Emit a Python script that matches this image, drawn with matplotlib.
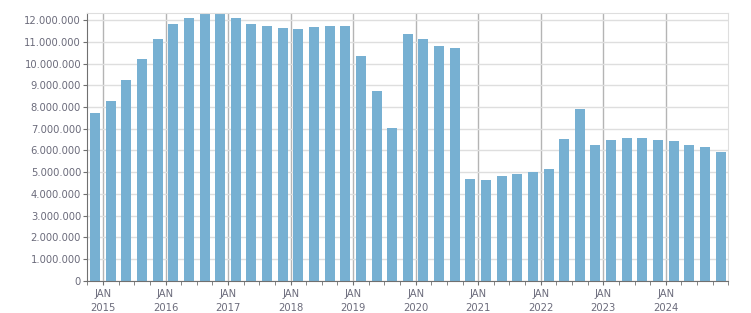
import numpy as np
import matplotlib.pyplot as plt
from matplotlib.ticker import FuncFormatter, FixedLocator

# quarterly values, Q4 2014 .. Q4 2024
values = [7.73, 8.28, 9.25, 10.22, 11.14, 11.83, 12.10, 12.30, 12.30, 12.10,
          11.83, 11.74, 11.65, 11.60, 11.69, 11.74, 11.74, 10.35, 8.74, 7.04,
          11.37, 11.14, 10.82, 10.72, 4.69, 4.64, 4.82, 4.92, 5.01, 5.15,
          6.53, 7.91, 6.25, 6.48, 6.57, 6.57, 6.48, 6.44, 6.25, 6.16, 5.93]
values = np.array(values) * 1e6
years = list(range(2015, 2025))
year_labels = [f"JAN\n{y}" for y in years]

txt = '#6b6b7b'
x = 2014.875 + 0.25 * np.arange(len(values))

fig = plt.figure(figsize=(7.51, 3.13), dpi=100)
ax = fig.add_axes([0.1163, 0.1035, 0.8535, 0.854])

ax.bar(x, values, width=0.16, color='#77b0d2', zorder=2)

ax.set_xlim(2014.75, 2025.0)
ax.set_ylim(0, 12.32e6)

ax.set_yticks(np.arange(0, 12.5e6, 1e6))
ax.yaxis.set_major_formatter(FuncFormatter(lambda v, p: f"{int(v):,}".replace(',', '.')))
ax.xaxis.set_major_locator(FixedLocator(years))
ax.set_xticklabels(year_labels)
ax.xaxis.set_minor_locator(FixedLocator(np.arange(2014.75, 2025.01, 0.25)))

ax.grid(axis='y', color='#dedede', linewidth=1, zorder=0)
ax.grid(axis='x', which='major', color='#b4b4b4', linewidth=1, zorder=1)
ax.set_axisbelow(True)

for s in ['left', 'bottom']:
    ax.spines[s].set_color('#707070')
for s in ['top', 'right']:
    ax.spines[s].set_color('#dedede')

ax.tick_params(axis='y', length=3, color='#707070', labelsize=7.2, labelcolor=txt, pad=1.5)
ax.tick_params(axis='x', which='both', length=3, color='#707070', labelsize=7.2,
               labelcolor=txt, pad=3)
for lab in ax.get_xticklabels():
    lab.set_linespacing(1.45)

fig.savefig('out.png', dpi=100)
